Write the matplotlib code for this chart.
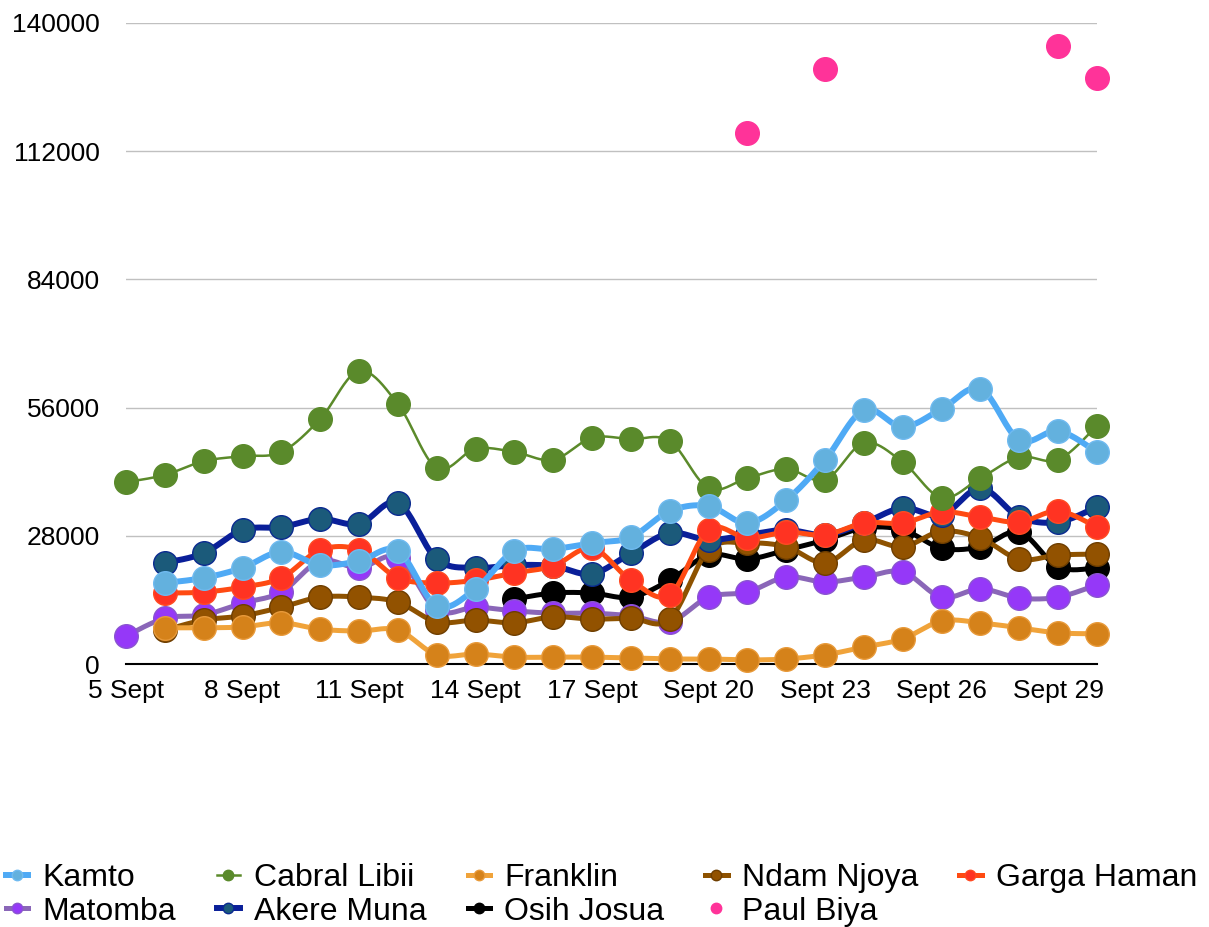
import numpy as np
import matplotlib
matplotlib.use('Agg')
import matplotlib.pyplot as plt
from matplotlib.lines import Line2D

#%% plot parameters
plt.rcdefaults()
params = {
    'font.family': ['Liberation Sans', 'DejaVu Sans'],
    'font.size': 19,
    'xtick.labelsize': 19,
    'ytick.labelsize': 19,
    'legend.fontsize': 23,
}
plt.rcParams.update(params)

#%% data (votes per day, 5 Sept .. 30 Sept)
tick_days = [5, 8, 11, 14, 17, 20, 23, 26, 29]
tick_labels = ['5 Sept', '8 Sept', '11 Sept', '14 Sept', '17 Sept',
               'Sept 20', 'Sept 23', 'Sept 26', 'Sept 29']

kamto_days = list(range(6, 31))
kamto = [17700, 18800, 21000, 24500, 21600, 22500, 24700, 12700, 16400, 24700,
         25100, 26400, 27700, 33400, 34500, 30800, 35800, 44600, 55500, 51800,
         55700, 60100, 48900, 50900, 46300]

cabral_days = list(range(5, 31))
cabral = [39700, 41300, 44300, 45400, 46300, 53500, 64000, 56800, 42800, 47000,
          46300, 44600, 49400, 49100, 48700, 38400, 40600, 42600, 40200, 48300,
          44100, 36300, 40600, 45200, 44600, 52000]

franklin_days = list(range(6, 31))
franklin = [7900, 7900, 8100, 9000, 7600, 7200, 7400, 2000, 2200, 1500,
            1500, 1500, 1300, 1100, 1100, 900, 1100, 2000, 3700, 5500,
            9400, 9000, 7900, 6800, 6600]

ndam_days = list(range(6, 31))
ndam = [7400, 9600, 10500, 12400, 14600, 14600, 13500, 9200, 9600, 9000,
        10300, 9800, 10000, 9800, 24900, 26400, 25600, 22100, 27100, 25600,
        29000, 27500, 22900, 23800, 24000]

garga_days = list(range(6, 31))
garga = [15500, 15700, 16800, 18800, 24900, 24900, 18800, 17700, 18300, 19900,
         21400, 25300, 18300, 15100, 29300, 27500, 28800, 28200, 30800, 30800,
         33200, 32100, 31000, 33400, 29900]

matomba_days = list(range(5, 31))
matomba = [6100, 10000, 10700, 13300, 15700, 22500, 21000, 23200, 11800, 12400,
           11600, 11100, 11100, 10500, 9200, 14600, 15700, 19000, 17900, 19000,
           20100, 14600, 16400, 14400, 14600, 17300]

akere_days = list(range(6, 31))
akere = [22100, 24200, 29300, 29900, 31700, 30600, 35200, 22900, 21000, 21600,
         21400, 19700, 24200, 28600, 27100, 28200, 29300, 28200, 30800, 34100,
         32500, 38400, 32100, 31000, 34300]

osih_days = list(range(15, 31))
osih = [14200, 15500, 15500, 14600, 18300, 23800, 22900, 24900, 27100, 29700,
        29300, 25300, 25600, 28800, 21200, 21000]

biya_days = [21, 23, 29, 30]
biya = [116000, 130000, 135000, 128000]


def smooth(x, y, n=24):
    # Catmull-Rom curve through the points (like the smoothed lines of the original)
    x = np.asarray(x, float)
    y = np.asarray(y, float)
    P = np.column_stack([x, y])
    P = np.vstack([P[0], P, P[-1]])
    out = []
    t = np.linspace(0, 1, n)[:, None]
    for i in range(1, len(P) - 2):
        p0, p1, p2, p3 = P[i - 1], P[i], P[i + 1], P[i + 2]
        seg = 0.5 * (2 * p1 + (-p0 + p2) * t + (2 * p0 - 5 * p1 + 4 * p2 - p3) * t ** 2
                     + (-p0 + 3 * p1 - 3 * p2 + p3) * t ** 3)
        out.append(seg)
    out = np.vstack(out)
    return out[:, 0], out[:, 1]


#%% plot
fig = plt.figure(figsize=(12.09, 9.27), dpi=100)
ax = fig.add_axes([126 / 1209, 1 - 664 / 927, (1097 - 126) / 1209, (664 - 23) / 927])

series = [
    # name, days, values, line color, line width, marker color, marker edge, z
    ('Osih Josua', osih_days, osih, '#000000', 3.6, '#000000', '#000000', 3),
    ('Matomba', matomba_days, matomba, '#8a66b8', 3.6, '#9538f8', '#8a55d0', 4),
    ('Ndam Njoya', ndam_days, ndam, '#8e5200', 3.6, '#925200', '#6e3e00', 5),
    ('Franklin', franklin_days, franklin, '#f0a33a', 3.6, '#d5821a', '#e89a3a', 6),
    ('Akere Muna', akere_days, akere, '#0a1f99', 4.3, '#1b5a7a', '#0a2a90', 7),
    ('Garga Haman', garga_days, garga, '#ff4a12', 3.6, '#ff3322', '#ff4a22', 8),
    ('Cabral Libii', cabral_days, cabral, '#5b8a2a', 1.8, '#5a8a2b', '#5a8a2b', 9),
    ('Kamto', kamto_days, kamto, '#4faaf5', 4.3, '#63b1de', '#6fbaf0', 10),
]

handles = {}
for name, d, v, lc, lw, mc, me, z in series:
    sx, sy = smooth(d, v)
    ax.plot(sx, sy, color=lc, linewidth=lw, zorder=z, clip_on=False,
            solid_capstyle='round')
    ax.plot(d, v, linestyle='none', marker='o', markersize=17, markerfacecolor=mc,
            markeredgecolor=me, markeredgewidth=1, zorder=z + 0.5, clip_on=False)
    handles[name] = Line2D([], [], color=lc, linewidth=lw, marker='o', markersize=7.5,
                           markerfacecolor=mc, markeredgecolor=me)

ax.plot(biya_days, biya, linestyle='none', marker='o', markersize=17,
        markerfacecolor='#ff3399', markeredgecolor='#ff3399', zorder=11, clip_on=False)
handles['Paul Biya'] = Line2D([], [], linestyle='none', marker='o', markersize=7.5,
                              markerfacecolor='#ff3399', markeredgecolor='#ff3399')

ax.set_xlim(5, 30)
ax.set_ylim(0, 140000)
ax.set_yticks(np.arange(0, 140001, 28000))
ax.set_xticks(tick_days)
ax.set_xticklabels(tick_labels)
ax.yaxis.grid(True, color='#c0c0c0', linewidth=1)
ax.set_axisbelow(True)
for s in ['top', 'right', 'left']:
    ax.spines[s].set_visible(False)
ax.spines['bottom'].set_linewidth(1.5)
ax.spines['bottom'].set_zorder(2)
ax.tick_params(axis='y', length=0, pad=19)
ax.tick_params(axis='x', length=0, pad=11)

order = ['Kamto', 'Matomba', 'Cabral Libii', 'Akere Muna', 'Franklin', 'Osih Josua',
         'Ndam Njoya', 'Paul Biya', 'Garga Haman']
fig.legend([handles[k] for k in order], order, ncol=5, frameon=False,
           loc='center left', bbox_to_anchor=(6 / 1209, 1 - 895 / 927),
           borderpad=0, borderaxespad=0, handlelength=0.7, handletextpad=0.45,
           columnspacing=1.28, labelspacing=0.1)

fig.savefig('out.png', dpi=100)
